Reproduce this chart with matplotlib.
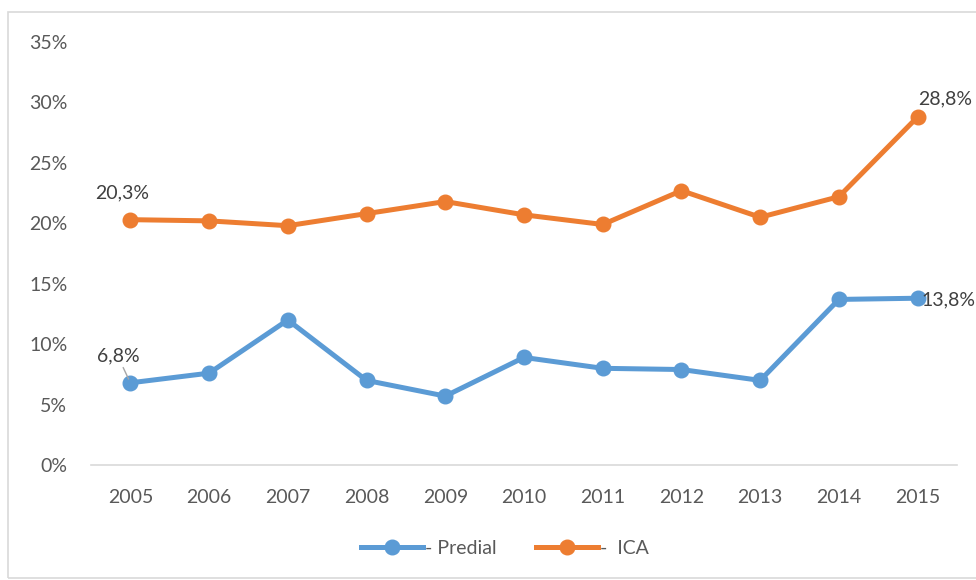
import matplotlib
matplotlib.use("Agg")
import matplotlib.pyplot as plt
from matplotlib.patches import Rectangle

years = ["2005", "2006", "2007", "2008", "2009", "2010", "2011", "2012", "2013", "2014", "2015"]
predial = [6.8, 7.6, 12.0, 7.0, 5.7, 8.9, 8.0, 7.9, 7.0, 13.7, 13.8]
ica = [20.3, 20.2, 19.8, 20.8, 21.8, 20.7, 19.9, 22.7, 20.5, 22.2, 28.8]
yticks = [0, 5, 10, 15, 20, 25, 30, 35]

BLUE = "#5b9bd5"
ORANGE = "#ed7d31"
TXT = "#595959"
FS = 14

plt.rcParams["font.family"] = ["Lato", "DejaVu Sans"]

fig = plt.figure(figsize=(9.76, 5.8), dpi=100)
fig.patches.append(Rectangle((8 / 976, 2 / 580), 1.0, 566 / 580, transform=fig.transFigure,
                             fill=False, edgecolor="#d9d9d9", linewidth=1.2))
ax = fig.add_axes([91 / 976, 1 - 465 / 580, (957 - 91) / 976, (465 - 42) / 580])

x = list(range(len(years)))
ax.plot(x, predial, color=BLUE, lw=3.6, marker="o", ms=10.5, label="- Predial", zorder=3)
ax.plot(x, ica, color=ORANGE, lw=3.6, marker="o", ms=10.5, label="-  ICA", zorder=3)

ax.set_xlim(-0.5, len(years) - 0.5)
ax.set_ylim(0, 35)
ax.set_xticks(x)
ax.set_xticklabels(years)
ax.set_yticks(yticks)
ax.set_yticklabels([f"{v}%" for v in yticks])
ax.tick_params(axis="both", length=0, labelsize=FS, colors=TXT)
ax.tick_params(axis="x", pad=17)
ax.tick_params(axis="y", pad=17)
for s in ["top", "right", "left"]:
    ax.spines[s].set_visible(False)
ax.spines["bottom"].set_color("#d9d9d9")
ax.spines["bottom"].set_linewidth(1.2)

def fmt(v):
    return f"{v:.1f}%".replace(".", ",")

ax.annotate(fmt(ica[0]), (x[0], ica[0]), xytext=(-6, 13), textcoords="offset points",
            ha="center", va="bottom", fontsize=FS, color="#404040")
ax.annotate(fmt(ica[-1]), (x[-1], ica[-1]), xytext=(20, 7), textcoords="offset points",
            ha="center", va="bottom", fontsize=FS, color="#404040")
ax.annotate(fmt(predial[-1]), (x[-1], predial[-1]), xytext=(22, -7), textcoords="offset points",
            ha="center", va="bottom", fontsize=FS, color="#404040")
ax.annotate(fmt(predial[0]), (x[0], predial[0]), xytext=(-9, 13), textcoords="offset points",
            ha="center", va="bottom", fontsize=FS, color="#404040",
            arrowprops=dict(arrowstyle="-", color="#a6a6a6", lw=1, shrinkA=0, shrinkB=3))

ax.legend(loc="center", bbox_to_anchor=(505 / 976, 1 - 548 / 580), bbox_transform=fig.transFigure,
          ncol=2, frameon=False, fontsize=FS, labelcolor=TXT, handlelength=3.2,
          columnspacing=2.0, handletextpad=0.1)

fig.savefig("out.png", dpi=100)
